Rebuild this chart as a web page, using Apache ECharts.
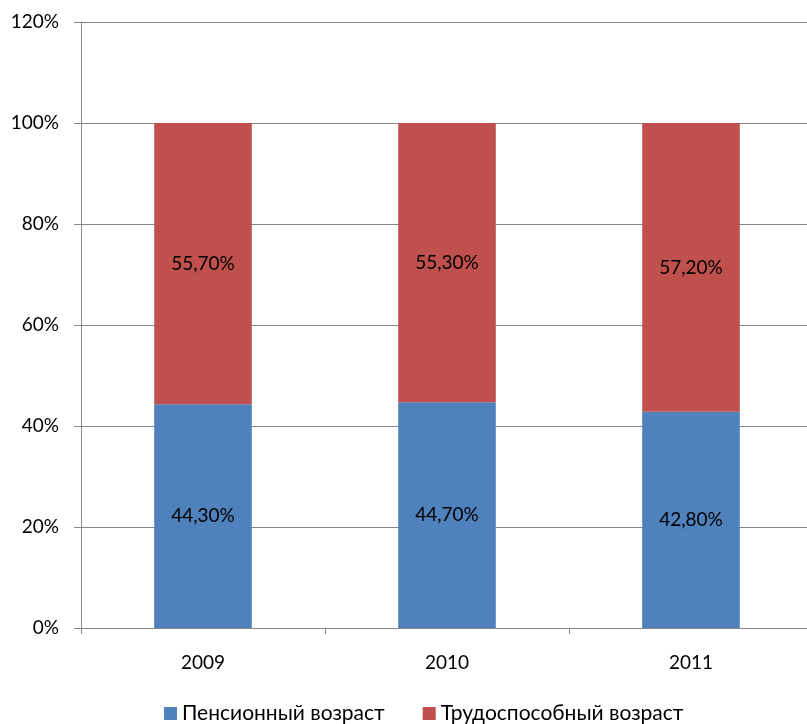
<!DOCTYPE html>
<html><head><meta charset="utf-8">
<script src="https://cdn.jsdelivr.net/npm/echarts@6/dist/echarts.min.js"></script>
<style>html,body{margin:0;padding:0;background:#fff}#c{width:807px;height:724px}</style>
</head><body><div id="c"></div>
<script>
const categories = ['2009', '2010', '2011'];
const pension = [44.3, 44.7, 42.8];
const working = [55.7, 55.3, 57.2];
const yTicks = [0, 20, 40, 60, 80, 100, 120];
const seriesNames = ['Пенсионный возраст', 'Трудоспособный возраст'];

const font = 'Lato, "Open Sans", sans-serif';
const fmt = v => v.toFixed(2).replace('.', ',') + '%';
const chart = echarts.init(document.getElementById('c'));
chart.setOption({
  animation: false,
  textStyle: { fontFamily: font },
  grid: { left: 81, width: 732, top: 22, height: 606, containLabel: false, outerBoundsMode: 'none' },
  legend: {
    left: 164, top: 703, padding: 0, itemWidth: 13, itemHeight: 13, itemGap: 38,
    icon: 'rect',
    textStyle: { fontSize: 21, color: '#000', fontFamily: font },
    data: seriesNames
  },
  xAxis: {
    type: 'category', data: categories,
    axisLine: { lineStyle: { color: '#888', width: 1 } },
    axisTick: { show: true, length: 6, lineStyle: { color: '#888' } },
    axisLabel: { fontSize: 19, color: '#000', margin: 25, fontFamily: font }
  },
  yAxis: {
    type: 'value', min: 0, max: 120, interval: 20,
    axisLine: { show: true, lineStyle: { color: '#888' } },
    axisTick: { show: true, length: 7, lineStyle: { color: '#888' } },
    splitLine: { lineStyle: { color: '#888', width: 1 } },
    axisLabel: { fontSize: 19, color: '#000', margin: 22, fontFamily: font,
      formatter: v => yTicks.includes(v) ? v + '%' : '' }
  },
  series: [
    { name: seriesNames[0], type: 'bar', stack: 's', data: pension, barWidth: '40%',
      itemStyle: { color: '#4F81BD' },
      label: { show: true, position: 'inside', color: '#000', fontSize: 19, fontFamily: font, formatter: p => fmt(p.value) } },
    { name: seriesNames[1], type: 'bar', stack: 's', data: working, barWidth: '40%',
      itemStyle: { color: '#C0504D' },
      label: { show: true, position: 'inside', color: '#000', fontSize: 19, fontFamily: font, formatter: p => fmt(p.value) } }
  ]
});
</script></body></html>
